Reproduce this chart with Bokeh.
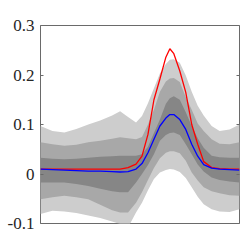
from bokeh.plotting import figure
from bokeh.models import Range1d, LinearAxis, FixedTicker
from bokeh.embed import file_html
from bokeh.resources import INLINE

x = [0, 6, 12, 18, 24, 30, 36, 40, 44, 48, 51, 54, 57, 60, 63, 65, 67, 70, 73, 76, 79, 82, 86, 90, 95, 100]

light_upper = [0.097, 0.087, 0.084, 0.091, 0.100, 0.108, 0.118, 0.127, 0.115, 0.104, 0.117, 0.143, 0.173, 0.203,
               0.222, 0.231, 0.232, 0.225, 0.199, 0.166, 0.138, 0.118, 0.097, 0.087, 0.090, 0.100]
medium_upper = [0.064, 0.060, 0.057, 0.059, 0.064, 0.067, 0.071, 0.074, 0.072, 0.070, 0.075, 0.100, 0.130, 0.166,
                0.187, 0.193, 0.194, 0.186, 0.155, 0.130, 0.102, 0.087, 0.070, 0.061, 0.060, 0.064]
dark_upper = [0.033, 0.031, 0.030, 0.031, 0.033, 0.035, 0.036, 0.037, 0.037, 0.037, 0.040, 0.055, 0.083, 0.110,
              0.142, 0.153, 0.157, 0.150, 0.125, 0.097, 0.072, 0.053, 0.037, 0.034, 0.033, 0.033]
dark_lower = [-0.017, -0.017, -0.017, -0.020, -0.024, -0.030, -0.035, -0.037, -0.037, -0.017, 0.000, 0.018, 0.040,
              0.067, 0.079, 0.083, 0.084, 0.079, 0.060, 0.040, 0.019, 0.005, -0.007, -0.012, -0.015, -0.017]
medium_lower = [-0.051, -0.047, -0.044, -0.047, -0.051, -0.062, -0.073, -0.078, -0.078, -0.058, -0.037, -0.012,
                0.012, 0.032, 0.043, 0.046, 0.046, 0.042, 0.027, 0.003, -0.013, -0.027, -0.035, -0.039, -0.043, -0.044]
light_lower = [-0.081, -0.074, -0.076, -0.079, -0.084, -0.089, -0.096, -0.101, -0.108, -0.078, -0.058, -0.033,
               -0.010, 0.003, 0.008, 0.010, 0.009, 0.004, -0.008, -0.027, -0.046, -0.061, -0.071, -0.076, -0.077, -0.071]
mean_line = [0.010, 0.010, 0.010, 0.010, 0.010, 0.010, 0.010, 0.010, 0.013, 0.020, 0.036, 0.080, 0.150, 0.192,
             0.236, 0.253, 0.243, 0.208, 0.165, 0.100, 0.060, 0.025, 0.013, 0.011, 0.010, 0.010]
median_line = [0.0097, 0.009, 0.008, 0.007, 0.006, 0.0057, 0.005, 0.004, 0.005, 0.010, 0.021, 0.043, 0.070, 0.097,
               0.113, 0.120, 0.120, 0.110, 0.090, 0.060, 0.036, 0.019, 0.012, 0.0097, 0.009, 0.008]

y_ticks = [-0.1, 0, 0.1, 0.2, 0.3]
y_tick_labels = ["-0.1", "0", "0.1", "0.2", "0.3"]

p = figure(width=240, height=240, output_backend="svg", toolbar_location=None,
           x_range=Range1d(0, 100), y_range=Range1d(-0.1, 0.3),
           x_axis_location=None, y_axis_location="left",
           min_border_left=40, min_border_right=1, min_border_top=25, min_border_bottom=17)
p.grid.visible = False
p.outline_line_color = "#6a6a6a"
p.outline_line_width = 1
p.background_fill_color = "white"
p.border_fill_color = "white"

p.varea(x=x, y1=light_lower, y2=light_upper, fill_color="#cdcdcd")
p.varea(x=x, y1=medium_lower, y2=medium_upper, fill_color="#a8a8a8")
p.varea(x=x, y1=dark_lower, y2=dark_upper, fill_color="#868686")
p.line(x, mean_line, line_color="#ff0000", line_width=1.3)
p.line(x, median_line, line_color="#0000ff", line_width=1.3)

ya = p.yaxis[0]
ya.ticker = FixedTicker(ticks=y_ticks)
ya.major_label_overrides = {t: l for t, l in zip(y_ticks, y_tick_labels)}
ya.axis_line_color = None
ya.major_tick_in = 3
ya.major_tick_out = 0
ya.minor_tick_line_color = None
ya.major_tick_line_color = "#6a6a6a"
ya.major_label_text_font = "Liberation Serif"
ya.major_label_text_font_style = "normal"
ya.major_label_text_font_size = "17px"
ya.major_label_text_color = "#262626"
ya.major_label_standoff = 6

ra = LinearAxis(ticker=FixedTicker(ticks=y_ticks))
ra.axis_line_color = None
ra.major_tick_in = 3
ra.major_tick_out = 0
ra.minor_tick_line_color = None
ra.major_tick_line_color = "#6a6a6a"
ra.major_label_overrides = {t: "" for t in y_ticks}
ra.major_label_text_font_size = "1px"
ra.major_label_standoff = 0
p.add_layout(ra, "right")

open("out.html", "w").write(file_html(p, INLINE))
